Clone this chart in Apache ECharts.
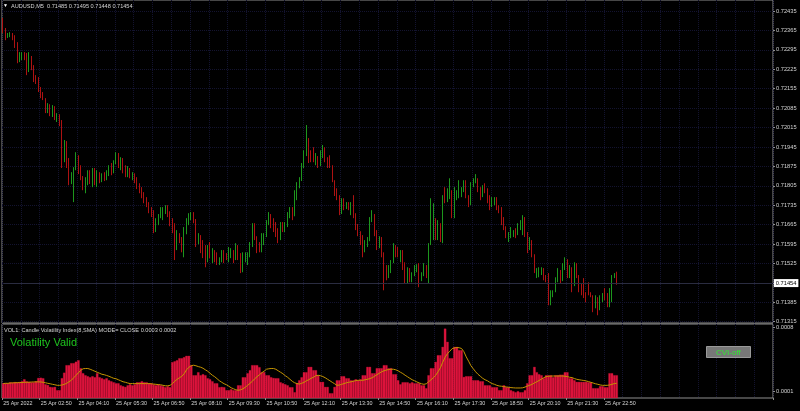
<!DOCTYPE html>
<html>
<head>
<meta charset="utf-8">
<title>AUDUSD,M5</title>
<script src="https://cdn.jsdelivr.net/npm/echarts@6/dist/echarts.min.js"></script>
<style>
  html, body { margin: 0; padding: 0; background: #000; }
  #chart { width: 800px; height: 411px; }
</style>
</head>
<body>
<div id="chart"></div>
<script>
// prices in points above 0.70000 (1 point = 0.00001)
const opens = [
  2403,2366,2345,2352,2356,2338,2312,2258,2276,2284,
  2265,2215,2273,2229,2193,2186,2157,2136,2121,2078,
  2092,2071,2085,2053,2063,2035,1897,1962,1897,1825,
  1832,1869,1912,1861,1832,1804,1818,1843,1825,1854,
  1818,1840,1825,1843,1832,1854,1869,1861,1897,1919,
  1879,1897,1861,1847,1861,1840,1847,1825,1804,1789,
  1778,1753,1739,1717,1703,1652,1674,1695,1710,1717,
  1724,1710,1681,1645,1591,1627,1609,1580,1638,1674,
  1695,1703,1681,1602,1623,1587,1565,1544,1573,1558,
  1573,1544,1529,1544,1565,1558,1544,1565,1573,1544,
  1587,1555,1529,1551,1558,1565,1591,1659,1623,1580,
  1573,1609,1623,1667,1688,1674,1652,1638,1616,1659,
  1645,1659,1695,1717,1703,1768,1804,1825,1876,1915,
  1970,1933,1905,1897,1912,1879,1926,1941,1905,1890,
  1876,1825,1782,1768,1710,1753,1731,1739,1724,1742,
  1703,1659,1638,1602,1573,1594,1609,1681,1703,1638,
  1591,1609,1565,1501,1486,1508,1529,1587,1565,1555,
  1565,1515,1472,1501,1472,1486,1508,1515,1464,1486,
  1515,1486,1594,1645,1681,1616,1667,1616,1768,1753,
  1760,1789,1710,1760,1782,1771,1796,1818,1771,1739,
  1804,1825,1825,1796,1768,1789,1782,1753,1731,1753,
  1757,1731,1717,1681,1659,1620,1630,1627,1641,1627,
  1659,1674,1688,1638,1580,1609,1558,1479,1486,1493,
  1508,1479,1464,1400,1407,1425,1464,1493,1464,1515,
  1537,1493,1508,1446,1515,1483,1436,1450,1414,1443,
  1414,1407,1371,1400,1363,1392,1410,1400,1378,1407,
  1472,1485
];
const closes = [
  2366,2345,2352,2356,2338,2312,2258,2276,2284,2265,
  2215,2273,2229,2193,2186,2157,2136,2121,2078,2092,
  2071,2085,2053,2063,2035,1897,1962,1897,1825,1832,
  1869,1912,1861,1832,1804,1818,1843,1825,1854,1818,
  1840,1825,1843,1832,1854,1869,1861,1897,1919,1879,
  1897,1861,1847,1861,1840,1847,1825,1804,1789,1778,
  1753,1739,1717,1703,1652,1674,1695,1710,1717,1724,
  1710,1681,1645,1591,1627,1609,1580,1638,1674,1695,
  1703,1681,1602,1623,1587,1565,1544,1573,1558,1573,
  1544,1529,1544,1565,1558,1544,1565,1573,1544,1587,
  1555,1529,1551,1558,1565,1591,1659,1623,1580,1573,
  1609,1623,1667,1688,1674,1652,1638,1616,1659,1645,
  1659,1695,1717,1703,1768,1804,1825,1876,1915,1970,
  1933,1905,1897,1912,1879,1926,1941,1905,1890,1876,
  1825,1782,1768,1710,1753,1731,1739,1724,1742,1703,
  1659,1638,1602,1573,1594,1609,1681,1703,1638,1591,
  1609,1565,1501,1486,1508,1529,1587,1565,1555,1565,
  1515,1472,1501,1472,1486,1508,1515,1464,1486,1515,
  1486,1594,1717,1724,1616,1667,1616,1768,1753,1782,
  1807,1710,1782,1782,1811,1796,1818,1782,1739,1804,
  1825,1840,1796,1768,1789,1782,1753,1731,1753,1757,
  1731,1717,1681,1659,1620,1630,1645,1641,1627,1659,
  1674,1688,1638,1580,1609,1558,1501,1501,1504,1508,
  1479,1464,1400,1421,1425,1464,1493,1464,1515,1537,
  1493,1508,1446,1515,1483,1436,1428,1414,1400,1414,
  1407,1371,1400,1363,1392,1410,1400,1378,1407,1472,
  1486,1454
];
const lows = [
  2356,2330,2338,2341,2330,2302,2247,2251,2258,2258,
  2204,2215,2222,2179,2172,2143,2121,2114,2067,2067,
  2056,2053,2042,2035,2020,1869,1890,1869,1807,1811,
  1746,1861,1847,1825,1789,1778,1807,1811,1800,1807,
  1800,1814,1818,1822,1825,1840,1843,1850,1883,1869,
  1861,1850,1836,1836,1832,1825,1814,1793,1778,1760,
  1742,1728,1706,1692,1634,1638,1663,1688,1681,1703,
  1692,1659,1634,1537,1573,1598,1565,1547,1630,1663,
  1681,1670,1584,1594,1562,1544,1511,1529,1544,1526,
  1529,1519,1519,1529,1526,1537,1529,1544,1526,1537,
  1537,1490,1493,1529,1519,1547,1584,1609,1562,1565,
  1565,1591,1620,1663,1652,1638,1620,1598,1609,1638,
  1638,1656,1688,1681,1695,1753,1796,1822,1869,1912,
  1887,1890,1890,1879,1869,1876,1905,1890,1869,1869,
  1818,1768,1753,1699,1703,1717,1721,1717,1699,1688,
  1645,1623,1591,1547,1565,1584,1605,1674,1623,1573,
  1580,1547,1428,1464,1472,1490,1526,1547,1547,1529,
  1501,1454,1454,1457,1457,1479,1493,1439,1461,1479,
  1472,1454,1591,1609,1609,1609,1602,1598,1742,1746,
  1757,1688,1688,1753,1760,1764,1782,1760,1728,1735,
  1800,1814,1782,1753,1764,1778,1742,1717,1728,1735,
  1717,1706,1663,1645,1616,1602,1616,1620,1616,1627,
  1645,1627,1620,1562,1573,1547,1490,1472,1475,1483,
  1464,1457,1374,1374,1403,1421,1457,1454,1461,1501,
  1472,1472,1421,1443,1472,1421,1410,1400,1385,1410,
  1403,1349,1363,1338,1356,1385,1392,1367,1367,1385,
  1472,1448
];
const highs = [
  2410,2374,2356,2359,2356,2348,2323,2287,2287,2287,
  2284,2287,2273,2240,2204,2197,2161,2143,2121,2103,
  2099,2096,2092,2067,2063,2042,1970,1966,1905,1854,
  1872,1926,1915,1879,1840,1836,1861,1861,1869,1869,
  1861,1854,1850,1854,1861,1879,1887,1897,1926,1923,
  1908,1905,1879,1876,1869,1854,1850,1836,1814,1800,
  1782,1764,1746,1728,1717,1688,1703,1728,1728,1735,
  1735,1713,1688,1670,1645,1634,1620,1656,1688,1706,
  1710,1710,1685,1634,1627,1609,1591,1591,1602,1580,
  1573,1565,1547,1573,1573,1562,1584,1580,1573,1598,
  1591,1562,1565,1565,1565,1602,1670,1670,1623,1602,
  1634,1634,1681,1710,1703,1688,1674,1652,1674,1674,
  1674,1710,1728,1728,1789,1818,1836,1887,1933,2024,
  1977,1933,1944,1923,1912,1933,1952,1944,1908,1915,
  1879,1825,1796,1771,1760,1760,1746,1746,1746,1771,
  1706,1667,1641,1627,1609,1620,1692,1717,1703,1645,
  1623,1620,1565,1519,1519,1537,1598,1591,1584,1573,
  1573,1529,1511,1508,1493,1519,1522,1526,1493,1526,
  1519,1598,1760,1742,1688,1681,1670,1771,1800,1796,
  1832,1789,1800,1789,1825,1800,1825,1825,1771,1818,
  1832,1847,1832,1800,1807,1814,1796,1771,1764,1764,
  1764,1735,1728,1692,1659,1638,1656,1645,1652,1670,
  1681,1699,1692,1638,1620,1609,1558,1508,1511,1511,
  1508,1483,1490,1428,1428,1475,1508,1501,1526,1547,
  1540,1519,1511,1529,1526,1483,1454,1472,1421,1457,
  1421,1410,1410,1403,1410,1418,1436,1418,1436,1483,
  1490,1495
];

// Candle Volatility Index histogram and its SMA(8), in millionths
const cviHist = [
  184,186,184,195,192,197,195,199,206,228,
  206,199,195,195,206,242,245,239,173,165,
  144,141,144,108,108,240,300,382,382,404,
  404,420,436,349,294,272,261,250,261,250,
  294,250,239,228,239,217,206,195,184,184,
  162,152,144,162,173,162,173,195,195,206,
  195,195,184,184,173,162,173,162,152,141,
  152,141,415,425,436,458,458,470,484,484,
  382,272,272,305,272,283,272,239,228,206,
  184,184,141,144,141,108,108,119,108,108,
  162,162,250,250,294,327,382,382,382,360,
  305,305,272,272,250,242,239,239,195,184,
  173,162,141,141,86,184,217,250,305,305,
  363,363,327,327,272,199,199,144,144,75,
  75,144,217,217,261,261,239,239,217,217,
  228,217,228,272,272,363,363,294,294,349,
  349,349,382,382,349,349,283,283,217,173,
  195,195,195,184,195,184,184,184,162,162,
  130,272,349,349,418,491,491,582,782,637,
  458,458,582,582,546,546,253,261,261,261,
  217,217,217,206,206,162,162,162,141,141,
  141,108,108,162,141,141,108,97,86,97,
  86,86,108,184,272,272,363,305,283,272,
  239,272,272,272,250,272,272,278,278,305,
  305,239,239,217,199,199,199,199,199,195,
  195,130,130,130,152,152,141,141,294,294,
  272,272
];
const cviSignal = [
  181,184,184,187,189,190,191,192,193,195,
  195,196,198,199,200,200,199,195,190,184,
  179,173,168,162,162,165,173,184,201,217,
  245,272,299,327,343,346,346,338,327,316,
  305,294,283,278,270,261,250,239,234,223,
  212,201,195,187,181,181,181,181,181,181,
  181,181,181,179,176,173,170,168,162,157,
  157,162,181,206,228,245,261,289,332,360,
  376,382,376,367,360,349,332,316,294,272,
  256,234,212,195,179,168,152,135,124,113,
  108,113,124,141,162,184,206,234,256,278,
  299,316,338,343,346,346,338,321,305,289,
  267,250,228,206,190,181,176,184,195,212,
  223,239,250,267,272,267,258,245,228,212,
  195,179,162,165,173,181,190,195,201,206,
  214,217,217,217,223,228,236,245,261,278,
  294,310,321,329,335,338,338,332,321,305,
  291,272,256,239,223,212,199,188,179,173,
  179,201,223,245,272,310,354,415,469,508,
  535,563,571,576,573,565,530,473,426,376,
  343,310,283,261,239,223,212,195,181,173,
  162,155,152,148,144,141,137,135,133,133,
  133,135,143,154,162,173,188,201,215,230,
  245,258,261,263,264,264,264,264,264,261,
  258,250,247,236,228,223,219,215,210,203,
  195,187,179,173,166,162,162,162,166,173,
  181,184
];

const timeLabels = [
  '25 Apr 2022', '25 Apr 02:50', '25 Apr 04:10', '25 Apr 05:30', '25 Apr 06:50',
  '25 Apr 08:10', '25 Apr 09:30', '25 Apr 10:50', '25 Apr 12:10', '25 Apr 13:30',
  '25 Apr 14:50', '25 Apr 16:10', '25 Apr 17:30', '25 Apr 18:50', '25 Apr 20:10',
  '25 Apr 21:30', '25 Apr 22:50'
];
const priceLabels = [
  0.72435, 0.72365, 0.72295, 0.72225, 0.72155, 0.72085, 0.72015, 0.71945,
  0.71875, 0.71805, 0.71735, 0.71665, 0.71595, 0.71525, 0.71385, 0.71315
];
const priceGrid = priceLabels.concat([0.71455]);
const cviLabels = [0.0001, 0.0008];

// bar slots incl. empty chart shift on the right
const SLOTS = 328;
const LABEL_STEP = 16;
const GRID_STEP = 8;
const categories = [];
for (let k = 0; k < SLOTS; k++) {
  const m = 90 + 5 * k;
  const hh = String(Math.floor(m / 60) % 24).padStart(2, '0');
  const mm = String(m % 60).padStart(2, '0');
  categories.push('25 Apr ' + hh + ':' + mm);
}

const toPrice = v => +(0.7 + v / 1e5).toFixed(5);
const candles = opens.map((o, i) => [toPrice(o), toPrice(closes[i]), toPrice(lows[i]), toPrice(highs[i])]);
const lastPrice = candles[candles.length - 1][1];
const hist = cviHist.map(v => v / 1e6);
const signal = cviSignal.map(v => v / 1e6);

const font = '"Liberation Sans", Arial, sans-serif';
const gridColor = '#13132f';
const frameColor = '#8e8e8e';
const textColor = '#d4d4d4';
const bull = '#1d961d';
const bear = '#ad1212';
const lastLabelIndex = (timeLabels.length - 1) * LABEL_STEP;

const chart = echarts.init(document.getElementById('chart'));

const option = {
  backgroundColor: '#000',
  animation: false,
  title: [
    { text: '▼', left: 3, top: 3, padding: 0, textStyle: { color: '#fff', fontSize: 5, fontFamily: font, fontWeight: 'normal' } },
    { text: 'AUDUSD,M5  0.71485 0.71495 0.71448 0.71454', left: 11, top: 3, padding: 0,
      textStyle: { color: textColor, fontSize: 5.6, fontFamily: font, fontWeight: 'normal' } },
    { text: 'VOL1: Candle Volatility Index(8,SMA) MODE= CLOSE 0.0003 0.0002', left: 4, top: 327, padding: 0,
      textStyle: { color: textColor, fontSize: 5.6, fontFamily: font, fontWeight: 'normal' } },
    { text: 'Volatility Valid', left: 10, top: 337, padding: 0,
      textStyle: { color: '#1ec41e', fontSize: 11, fontFamily: font, fontWeight: 'normal' } },
    // CVI-off button
    { text: 'CVI-off', left: 706, top: 346, padding: [2, 10, 1, 10], z: 12,
      backgroundColor: '#777', borderColor: '#9a9a9a', borderWidth: 1,
      textStyle: { color: '#33e833', fontSize: 8, lineHeight: 9, fontFamily: font, fontWeight: 'normal' } }
  ],
  grid: [
    { left: 2, right: 27, top: 0, height: 323, show: true, borderColor: frameColor, borderWidth: 1 },
    { left: 2, right: 27, top: 324, height: 74, show: true, borderColor: frameColor, borderWidth: 1 }
  ],
  xAxis: [
    {
      type: 'category', gridIndex: 0, data: categories, boundaryGap: true,
      axisLine: { show: false }, axisTick: { show: false }, axisLabel: { show: false },
      splitLine: { show: true, interval: i => i % GRID_STEP === 0, lineStyle: { color: gridColor, type: 'dotted', width: 1 } }
    },
    {
      type: 'category', gridIndex: 1, data: categories, boundaryGap: true,
      axisLine: { show: false },
      axisTick: { show: true, interval: i => i % LABEL_STEP === 0 && i <= lastLabelIndex, length: 2, lineStyle: { color: frameColor } },
      axisLabel: {
        interval: i => i % LABEL_STEP === 0 && i <= lastLabelIndex,
        formatter: (v, i) => timeLabels[i / LABEL_STEP] || '',
        color: textColor, fontSize: 5.4, fontFamily: font, align: 'left', margin: 3
      },
      splitLine: { show: true, interval: i => i % GRID_STEP === 0, lineStyle: { color: gridColor, type: 'dotted', width: 1 } }
    }
  ],
  yAxis: [
    {
      type: 'value', gridIndex: 0, position: 'right', min: 0.7131, max: 0.72475, scale: true,
      axisLine: { show: false },
      axisTick: { show: true, customValues: priceGrid, length: 2, lineStyle: { color: frameColor } },
      axisLabel: { customValues: priceLabels, formatter: v => v.toFixed(5), color: textColor, fontSize: 5.7, fontFamily: font, margin: 3 },
      splitLine: { show: true, lineStyle: { color: gridColor, type: 'dotted', width: 1 } }
    },
    {
      type: 'value', gridIndex: 1, position: 'right', min: 0.0000234, max: 0.0008328, scale: true,
      axisLine: { show: false },
      axisTick: { show: true, customValues: cviLabels, length: 2, lineStyle: { color: frameColor } },
      axisLabel: { customValues: cviLabels, formatter: v => v.toFixed(4), color: textColor, fontSize: 5.7, fontFamily: font, margin: 3 },
      splitLine: { show: false }
    }
  ],
  series: [
    {
      name: 'AUDUSD,M5', type: 'candlestick', xAxisIndex: 0, yAxisIndex: 0, data: candles,
      barWidth: 1.3, clip: false,
      itemStyle: { color: bull, color0: bear, borderColor: bull, borderColor0: bear, borderWidth: 1 }
    },
    {
      // bid line with price box on the axis
      name: 'Bid', type: 'line', xAxisIndex: 0, yAxisIndex: 0, data: [],
      markLine: {
        silent: true, symbol: ['none', 'none'], animation: false,
        lineStyle: { color: '#2a2c40', type: 'solid', width: 1 },
        label: { show: true, position: 'end', formatter: lastPrice.toFixed(5), backgroundColor: '#fff',
          color: '#000', padding: [1, 2, 1, 2], fontSize: 5.7, fontFamily: font, distance: 2 },
        data: [[{ coord: [0, lastPrice] }, { coord: [SLOTS - 1, lastPrice] }]]
      }
    },
    {
      name: 'CVI', type: 'bar', xAxisIndex: 1, yAxisIndex: 1, data: hist,
      barCategoryGap: '0%', clip: true,
      itemStyle: { color: '#dc143c', borderColor: '#dc143c', borderWidth: 0.3 }
    },
    {
      name: 'SMA', type: 'line', xAxisIndex: 1, yAxisIndex: 1, data: signal,
      symbol: 'none', z: 3,
      lineStyle: { color: '#c49400', width: 1 }
    }
  ]
};

chart.setOption(option);
</script>
</body>
</html>
